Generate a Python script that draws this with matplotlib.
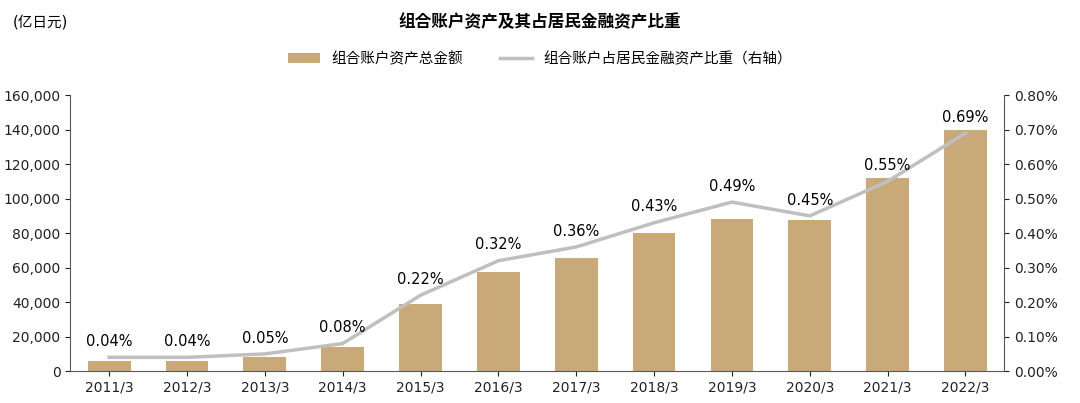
import matplotlib.pyplot as plt
from matplotlib import font_manager
import numpy as np

names = {f.name for f in font_manager.fontManager.ttflist}
cjk = [n for n in ['Noto Sans CJK SC', 'Noto Sans CJK JP', 'Noto Sans CJK TC'] if n in names]
if not cjk:
    cjk = [n for n in names if 'CJK' in n][:1]
plt.rcParams['font.family'] = ['DejaVu Sans'] + cjk

years = ['2011/3', '2012/3', '2013/3', '2014/3', '2015/3', '2016/3',
         '2017/3', '2018/3', '2019/3', '2020/3', '2021/3', '2022/3']
assets = [6000, 6000, 8000, 14000, 39000, 57500, 65500, 80000, 88000, 87500, 112000, 140000]
share = [0.04, 0.04, 0.05, 0.08, 0.22, 0.32, 0.36, 0.43, 0.49, 0.45, 0.55, 0.69]

fig = plt.figure(figsize=(10.8, 4.03), dpi=100)
ax = fig.add_axes([0.065, 0.079, 0.865, 0.685])
x = np.arange(len(years))
ax.bar(x, assets, width=0.55, color='#C8A977', label='组合账户资产总金额', zorder=2)
ax.set_ylim(0, 160000)
ax.set_yticks(range(0, 160001, 20000))
ax.set_yticklabels([f'{v:,}' for v in range(0, 160001, 20000)])
ax.set_xlim(-0.5, len(years) - 0.5)
ax.set_xticks(x)
ax.set_xticklabels(years)
for s in ['top', 'right']:
    ax.spines[s].set_visible(False)
ax.spines['left'].set_color('#595959')
ax.spines['bottom'].set_color('#595959')
ax.tick_params(labelsize=10, colors='#222222')

ax2 = ax.twinx()
ax2.plot(x, share, color='#BFBFBF', lw=2.5, label='组合账户占居民金融资产比重（右轴）', zorder=3)
ax2.set_ylim(0, 0.8)
ax2.set_yticks(np.arange(0, 0.81, 0.1))
ax2.set_yticklabels([f'{v:.2f}%' for v in np.arange(0, 0.81, 0.1)])
for s in ['top', 'left', 'bottom']:
    ax2.spines[s].set_visible(False)
ax2.spines['right'].set_color('#595959')
ax2.tick_params(labelsize=10, colors='#222222')
for xi, v in zip(x, share):
    ax2.annotate(f'{v:.2f}%', (xi, v), xytext=(0, 6), textcoords='offset points',
                 ha='center', va='bottom', fontsize=10.5)

h1, l1 = ax.get_legend_handles_labels()
h2, l2 = ax2.get_legend_handles_labels()
fig.legend(h1 + h2, l1 + l2, loc='center', bbox_to_anchor=(0.5, 0.855), ncol=2,
           frameon=False, fontsize=10.5, columnspacing=2.5, handlelength=2.2)
fig.text(0.5, 0.945, '组合账户资产及其占居民金融资产比重', ha='center', va='center',
         fontsize=12, fontweight='bold')
fig.text(0.012, 0.945, '(亿日元)', ha='left', va='center', fontsize=10.5)

fig.savefig('out.png', dpi=100)
